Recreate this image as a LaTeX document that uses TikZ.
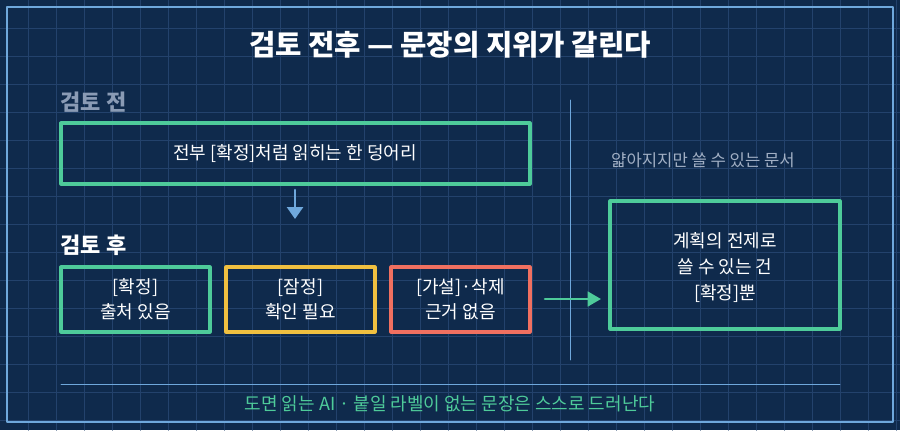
\documentclass[tikz,border=0pt]{standalone}
\usepackage{fontspec}
\newfontfamily\kr{Noto Sans CJK KR}
\usetikzlibrary{arrows.meta,positioning}
\definecolor{bgblue}{HTML}{0F2A4C}
\definecolor{gridblue}{HTML}{23426C}
\definecolor{edgeblue}{HTML}{6FA8DC}
\definecolor{okgreen}{HTML}{4ECB9A}
\definecolor{waityellow}{HTML}{F0C040}
\definecolor{dropred}{HTML}{F07060}
\definecolor{dimgray}{HTML}{8A9BB5}
\tikzset{
  box/.style={draw,line width=2.4pt,inner sep=0pt},
  body/.style={font=\kr\fontsize{13.5}{19}\selectfont,text=white,align=center},
  head/.style={font=\kr\bfseries\fontsize{16.5}{18}\selectfont,anchor=west},
}
\begin{document}
\begin{tikzpicture}[x=0.75pt,y=-0.75pt,line cap=round,line join=round]
%background and grid
  \fill[bgblue] (0,0) rectangle (900,430);
  \useasboundingbox (0,0) rectangle (900,430);
  \foreach \gx in {28,56,...,900} \draw[gridblue,line width=0.75pt] (\gx,0) -- (\gx,430);
  \foreach \gy in {28,56,...,430} \draw[gridblue,line width=0.75pt] (0,\gy) -- (900,\gy);
  \draw[edgeblue,line width=1.6pt] (7,7) rectangle (893,422);
%title
  \node[font=\kr\bfseries\fontsize{21.5}{24}\selectfont,text=white] (title) at (450,45) {검토 전후 — 문장의 지위가 갈린다};
%before review
  \node[head,text=dimgray] (before) at (56,102) {검토 전};
  \draw[box,okgreen] (61,123) rectangle (530,184);
  \node[body] (lump) at (295,154) {전부 [확정]처럼 읽히는 한 덩어리};
  \coordinate (down1) at (295,190);
  \coordinate (down2) at (295,219);
  \draw[edgeblue,line width=2pt,-{Triangle[length=9pt,width=12pt]}] (down1) -- (down2);
%after review
  \node[head,text=white] (after) at (56,245) {검토 후};
  \draw[box,okgreen] (61,267) rectangle (210,332);
  \node[body] (sure) at (135.5,299.5) {{[확정]}\\출처 있음};
  \draw[box,waityellow] (226,267) rectangle (375,332);
  \node[body] (maybe) at (300.5,299.5) {{[잠정]}\\확인 필요};
  \draw[box,dropred] (391,267) rectangle (530,332);
  \node[body] (guess) at (460.5,299.5) {{[가설]·삭제}\\근거 없음};
%divider
  \draw[edgeblue,line width=0.6pt] (570,100) -- (570,360);
%result
  \node[font=\kr\fontsize{12.5}{14}\selectfont,text=dimgray!80!white] (thin) at (703,160) {얇아지지만 쓸 수 있는 문서};
  \draw[box,okgreen] (610,201) rectangle (840,329);
  \node[body,font=\kr\fontsize{13.5}{19.5}\selectfont] (usable) at (725,268) {계획의 전제로\\쓸 수 있는 건\\{[확정]뿐}};
  \coordinate (go1) at (545,299);
  \coordinate (go2) at (601,299);
  \draw[okgreen,line width=2pt,-{Triangle[length=10pt,width=11pt]}] (go1) -- (go2);
%footer
  \draw[edgeblue,line width=0.6pt] (61,384) -- (840,384);
  \node[font=\kr\fontsize{13.5}{15}\selectfont,text=okgreen] (foot) at (450,404) {도면 읽는 AI · 붙일 라벨이 없는 문장은 스스로 드러난다};
\end{tikzpicture}
\end{document}
